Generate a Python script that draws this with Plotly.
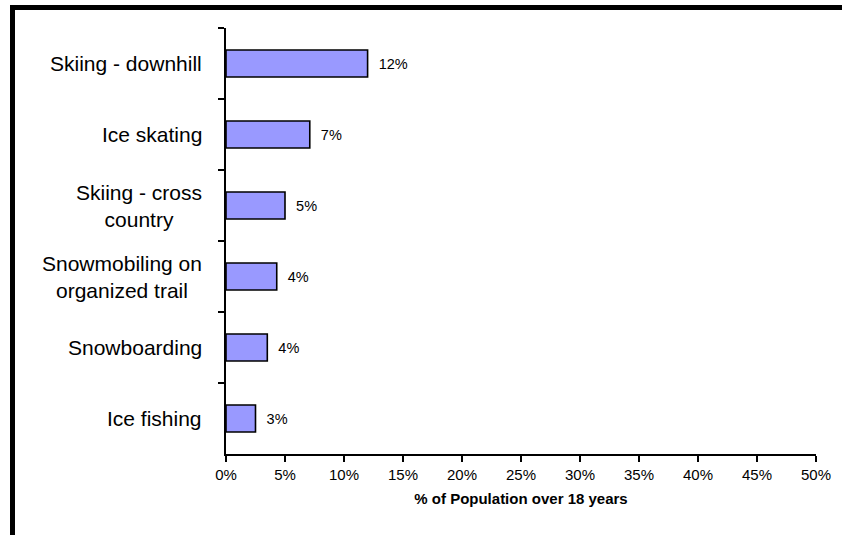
import plotly.graph_objects as go

# Winter activity participation, listed top to bottom
activities = [
    "Skiing - downhill",
    "Ice skating",
    "Skiing - cross<br>country",
    "Snowmobiling on<br>organized trail",
    "Snowboarding",
    "Ice fishing",
]
share = [0.12, 0.071, 0.05, 0.043, 0.035, 0.025]

x_ticks = [i * 0.05 for i in range(11)]

FONT = "Arial, Liberation Sans, sans-serif"
W, H = 842, 535
M_L, M_R, M_T, M_B = 226, 26, 28, 81
plot_w = W - M_L - M_R
plot_h = H - M_T - M_B


def px_to_paper_x(px):
    return (px - M_L) / plot_w


def px_to_paper_y(py):
    return (H - M_B - py) / plot_h


fig = go.Figure(
    go.Bar(
        x=share,
        y=activities,
        orientation="h",
        marker=dict(color="#9999FF", line=dict(color="black", width=1.6)),
        texttemplate="\u00a0\u00a0%{x:.0%}",
        textposition="outside",
        constraintext="none",
        cliponaxis=False,
        textfont=dict(family=FONT, size=14.5, color="black"),
        hoverinfo="skip",
    )
)

# Category labels, right-aligned against the axis with centred line breaks
for name in activities:
    fig.add_annotation(
        x=px_to_paper_x(204), xref="paper", xanchor="right",
        y=name, yref="y", yanchor="middle",
        text=name, showarrow=False, align="center",
        font=dict(family=FONT, size=21, color="black"),
    )

# Heavy frame along the top and left edges
frame = dict(color="black", width=5)
fig.add_shape(type="line", xref="paper", yref="paper",
              x0=px_to_paper_x(12.5), x1=px_to_paper_x(850),
              y0=px_to_paper_y(7.5), y1=px_to_paper_y(7.5), line=frame)
fig.add_shape(type="line", xref="paper", yref="paper",
              x0=px_to_paper_x(12.5), x1=px_to_paper_x(12.5),
              y0=px_to_paper_y(5), y1=px_to_paper_y(545), line=frame)

fig.update_layout(
    width=W, height=H,
    margin=dict(l=M_L, r=M_R, t=M_T, b=M_B),
    paper_bgcolor="white",
    plot_bgcolor="white",
    bargap=0.62,
    showlegend=False,
    font=dict(family=FONT, color="black"),
    xaxis=dict(
        range=[0, 0.5],
        tickvals=x_ticks,
        tickformat=".0%",
        ticks="outside", ticklen=6, tickwidth=1.5, tickcolor="black",
        showline=True, linecolor="black", linewidth=1.6,
        showgrid=False, zeroline=False,
        tickfont=dict(family=FONT, size=15, color="black"),
        title=dict(text="<b>% of Population over 18 years</b>",
                   font=dict(family=FONT, size=15, color="black"),
                   standoff=12),
    ),
    yaxis=dict(
        type="category",
        autorange="reversed",
        tickson="boundaries",
        ticks="outside", ticklen=6, tickwidth=1.5, tickcolor="black",
        showticklabels=False,
        showline=True, linecolor="black", linewidth=1.6,
        showgrid=False, zeroline=False,
    ),
)

fig.write_html("out.html")
